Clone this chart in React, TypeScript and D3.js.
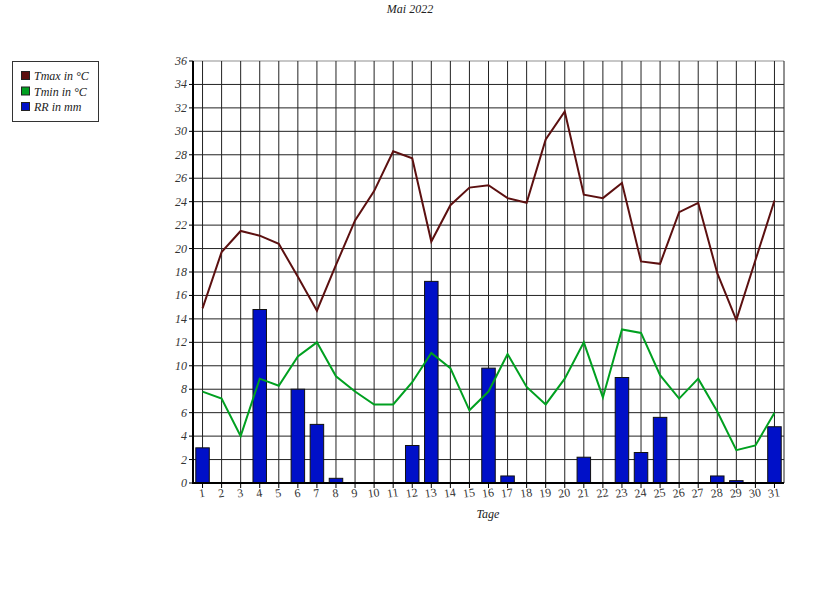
import React from "react";
import * as d3 from "d3";

const days: number[] = Array.from({ length: 31 }, (_, i) => i + 1);
const tmax: number[] = [14.9, 19.7, 21.5, 21.1, 20.4, 17.6, 14.7, 18.6, 22.4, 24.9, 28.3, 27.7, 20.6, 23.7, 25.2, 25.4, 24.3, 23.9, 29.3, 31.7, 24.6, 24.3, 25.6, 18.9, 18.7, 23.1, 23.9, 17.9, 13.9, 19.0, 24.1];
const tmin: number[] = [7.8, 7.2, 4.0, 8.9, 8.3, 10.8, 12.0, 9.1, 7.8, 6.7, 6.7, 8.6, 11.1, 9.8, 6.2, 7.8, 11.0, 8.2, 6.7, 8.9, 12.0, 7.3, 13.1, 12.8, 9.2, 7.2, 8.9, 6.1, 2.8, 3.2, 6.0];
const rr: number[] = [3.0, 0, 0, 14.8, 0, 8.0, 5.0, 0.4, 0, 0, 0, 3.2, 17.2, 0, 0, 9.8, 0.6, 0, 0, 0, 2.2, 0, 9.0, 2.6, 5.6, 0, 0, 0.6, 0.2, 0, 4.8];
const yTicks: number[] = d3.range(0, 37, 2);
const legendItems = [
  { label: "Tmax in °C", color: "#5c1010" },
  { label: "Tmin in °C", color: "#00a020" },
  { label: "RR in mm", color: "#0010c8" },
];

export default function App() {
  const W = 820, H = 603;
  const left = 193, right = 784, top = 61, bottom = 483;
  const x = d3.scaleBand<number>().domain(days).range([left, right]).padding(0);
  const cx = (d: number) => (x(d) as number) + x.bandwidth() / 2;
  const y = d3.scaleLinear().domain([0, 36]).range([bottom, top]);
  const lineMax = d3.line<number>().x((_, i) => cx(days[i])).y((v) => y(v));
  const barW = 13.5;
  const font = "'Liberation Serif', 'DejaVu Serif', serif";
  return (
    <div style={{ position: "absolute", left: 0, top: 0 }}>
      <svg width={W} height={H} style={{ display: "block", background: "#fff" }} fontFamily={font}>
        <text x={410} y={13} textAnchor="middle" fontSize={12} fontStyle="italic" fill="#222">Mai 2022</text>
        {/* grid */}
        {yTicks.map((t) => (
          <line key={"h" + t} x1={left} x2={right} y1={y(t)} y2={y(t)} stroke="#222" strokeWidth={1} opacity={t === 36 ? 0.5 : 1} />
        ))}
        {days.map((d) => (
          <line key={"v" + d} x1={cx(d)} x2={cx(d)} y1={top} y2={bottom} stroke="#222" strokeWidth={1} />
        ))}
        <line x1={right} x2={right} y1={top} y2={bottom} stroke="#222" strokeWidth={1} />
        {/* bars */}
        {rr.map((v, i) =>
          v > 0 ? (
            <rect key={"b" + i} x={cx(days[i]) - barW / 2} y={y(v)} width={barW} height={bottom - y(v)} fill="#0010c8" stroke="#111" strokeWidth={1} />
          ) : null
        )}
        <path d={lineMax(tmin) || ""} fill="none" stroke="#00a020" strokeWidth={2} />
        <path d={lineMax(tmax) || ""} fill="none" stroke="#5c1010" strokeWidth={2} />
        {/* axes */}
        <line x1={left} x2={left} y1={top} y2={bottom + 1} stroke="#000" strokeWidth={2} />
        <line x1={left} x2={right} y1={bottom} y2={bottom} stroke="#000" strokeWidth={2} />
        {yTicks.map((t) => (
          <g key={"yt" + t}>
            <line x1={left - 4} x2={left} y1={y(t)} y2={y(t)} stroke="#000" />
            <text x={left - 6} y={y(t) + 4} textAnchor="end" fontSize={12} fontStyle="italic" fill="#333">{t}</text>
          </g>
        ))}
        {days.map((d) => (
          <g key={"xt" + d}>
            <line x1={cx(d)} x2={cx(d)} y1={bottom} y2={bottom + 5} stroke="#000" />
            <text transform={`translate(${cx(d)},${bottom + 14}) rotate(-8)`} textAnchor="middle" fontSize={12} fill="#333">{d}</text>
          </g>
        ))}
        <text x={488} y={518} textAnchor="middle" fontSize={12} fontStyle="italic" fill="#222">Tage</text>
        {/* legend */}
        <rect x={12.5} y={61.5} width={86} height={60} fill="#fff" stroke="#333" strokeWidth={1} />
        {legendItems.map((it, i) => (
          <g key={"lg" + i}>
            <rect x={21.5} y={71.5 + i * 15.5} width={8} height={8} fill={it.color} stroke="#222" strokeWidth={1} />
            <text x={34} y={80 + i * 15.5} fontSize={12} fontStyle="italic" fill="#222">{it.label}</text>
          </g>
        ))}
      </svg>
    </div>
  );
}
